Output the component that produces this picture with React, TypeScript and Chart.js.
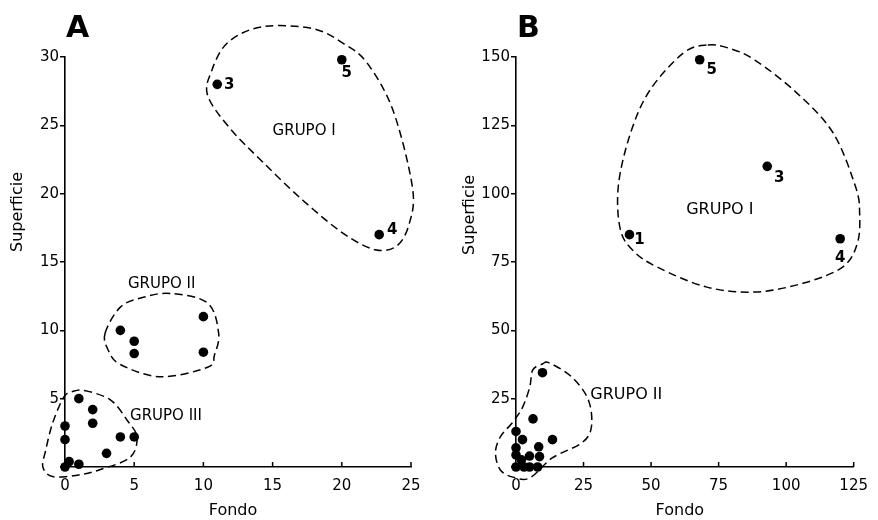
import React, { useEffect, useRef } from 'react';
import { Chart, registerables } from 'chart.js';

Chart.register(...registerables);

const FONT = '"DejaVu Sans", sans-serif';

// ---------- Panel A data ----------
const aTicksX = [0, 5, 10, 15, 20, 25];
const aTicksY = [0, 5, 10, 15, 20, 25, 30];
const aGrupoI: [number, number][] = [[11, 28], [20, 29.8], [22.7, 17]];
const aGrupoINums = ['3', '5', '4'];
const aGrupoII: [number, number][] = [[4, 10], [5, 9.2], [5, 8.3], [10, 11], [10, 8.4]];
const aGrupoIII: [number, number][] = [[1, 5], [2, 4.2], [2, 3.2], [0, 3], [0, 2], [4, 2.2], [5, 2.2], [3, 1], [0.3, 0.4], [0, 0], [1, 0.2]];
const aHullI: [number, number][] = [[10.3, 27.2], [10.6, 29.0], [11.6, 30.9], [13.4, 32.0], [15.5, 32.3], [18.2, 32.0], [20.1, 31.0], [21.8, 29.6], [23.7, 26.1], [25.1, 20.5], [24.9, 17.9], [24.0, 16.2], [22.4, 15.9], [20.1, 17.1], [17.2, 19.5], [14.3, 22.3], [11.9, 24.8]];
const aHullII: [number, number][] = [[2.9, 9.8], [4.0, 11.7], [5.6, 12.4], [7.6, 12.7], [10.3, 12.0], [11.1, 9.8], [10.8, 8.2], [10.3, 7.3], [6.9, 6.6], [4.0, 7.5], [3.1, 8.6]];
const aHullIII: [number, number][] = [[1.4, 5.6], [3.3, 4.9], [4.5, 3.4], [5.2, 2.2], [4.7, 0.7], [2.5, -0.2], [0.9, -0.6], [-0.9, -0.7], [-1.6, 0], [-1.4, 1.2], [-0.9, 3.2], [-0.1, 5.1], [0.5, 5.5]];
const aGroupLabels = ['GRUPO I', 'GRUPO II', 'GRUPO III'];
const aGroupLabelAt: [number, number][] = [[15.0, 24.6], [4.55, 13.4], [4.7, 3.7]];

// ---------- Panel B data ----------
const bTicksX = [0, 25, 50, 75, 100, 125];
const bTicksY = [0, 25, 50, 75, 100, 125, 150];
const bGrupoI: [number, number][] = [[42, 85], [68, 149], [93, 110], [120, 83.5]];
const bGrupoINums = ['1', '5', '3', '4'];
const bGrupoII: [number, number][] = [[0, 0], [3, 0], [5, 0], [8, 0], [2, 2.6], [0, 4.4], [5, 4], [8.7, 3.8], [0, 7], [8.4, 7.4], [2.4, 10], [0, 13], [13.5, 10], [6.3, 17.6], [9.8, 34.5]];
const bHullI: [number, number][] = [[71.0, 154.4], [78.6, 153.3], [88.4, 148.9], [104.0, 136.8], [117.4, 122.2], [125.7, 102.5], [127.2, 92.9], [126.4, 82.0], [121.0, 73.2], [106.5, 67.3], [88.4, 64.0], [70.3, 65.9], [52.2, 73.2], [43.5, 79.0], [38.6, 87.0], [37.9, 103.0], [42.4, 122.2], [49.6, 137.9], [62.0, 151.5]];
const bHullII: [number, number][] = [[9.8, 37.7], [12.3, 38.1], [20.7, 32.9], [26.8, 24.5], [27.9, 14.6], [24.3, 8.8], [13.4, 3.3], [5.1, -4.0], [-1.1, -3.7], [-5.8, -1.1], [-7.6, 5.1], [-5.8, 11.0], [-1.1, 16.5], [2.5, 22.0], [5.1, 29.3], [6.2, 35.5]];
const bGroupLabels = ['GRUPO I', 'GRUPO II'];
const bGroupLabelAt: [number, number][] = [[63.0, 94.0], [27.5, 26.3]];

type Panel = {
  letter: string;
  width: number;
  left: number;
  axisLeft: number;
  padRight: number;
  ticksX: number[];
  ticksY: number[];
  groups: [number, number][][];
  hulls: [number, number][][];
  labeled: [number, number][];
  nums: string[];
  numOffsets: [number, number][];
  groupLabels: string[];
  groupLabelAt: [number, number][];
  groupFont: number;
  yTitleX: number;
  yTitleY: number;
};

const panels: Panel[] = [
  {
    letter: 'A', width: 440, left: 0, axisLeft: 65, padRight: 29,
    ticksX: aTicksX, ticksY: aTicksY,
    groups: [aGrupoI, aGrupoII, aGrupoIII],
    hulls: [aHullI, aHullII, aHullIII],
    labeled: aGrupoI, nums: aGrupoINums,
    numOffsets: [[12, 1], [5, 13], [13, -5]],
    groupLabels: aGroupLabels, groupLabelAt: aGroupLabelAt, groupFont: 15,
    yTitleX: 18, yTitleY: 212,
  },
  {
    letter: 'B', width: 438, left: 440, axisLeft: 76, padRight: 17,
    ticksX: bTicksX, ticksY: bTicksY,
    groups: [bGrupoI, bGrupoII],
    hulls: [bHullI, bHullII],
    labeled: bGrupoI, nums: bGrupoINums,
    numOffsets: [[10, 5], [12, 10], [12, 12], [0, 19]],
    groupLabels: bGroupLabels, groupLabelAt: bGroupLabelAt, groupFont: 16,
    yTitleX: 30, yTitleY: 215,
  },
];

function closedCurve(ctx: CanvasRenderingContext2D, pts: { x: number; y: number }[]) {
  const n = pts.length;
  ctx.beginPath();
  ctx.moveTo(pts[0].x, pts[0].y);
  const t = 1 / 6;
  for (let i = 0; i < n; i++) {
    const p0 = pts[(i - 1 + n) % n];
    const p1 = pts[i];
    const p2 = pts[(i + 1) % n];
    const p3 = pts[(i + 2) % n];
    ctx.bezierCurveTo(
      p1.x + (p2.x - p0.x) * t, p1.y + (p2.y - p0.y) * t,
      p2.x - (p3.x - p1.x) * t, p2.y - (p3.y - p1.y) * t,
      p2.x, p2.y
    );
  }
  ctx.closePath();
  ctx.stroke();
}

function PanelChart({ p }: { p: Panel }) {
  const ref = useRef<HTMLCanvasElement>(null);
  useEffect(() => {
    if (!ref.current) return;
    const xs = p.ticksX;
    const ys = p.ticksY;
    const annot = {
      id: 'annot' + p.letter,
      afterDraw(chart: any) {
        const ctx: CanvasRenderingContext2D = chart.ctx;
        const sx = chart.scales.x;
        const sy = chart.scales.y;
        const area = chart.chartArea;
        ctx.save();
        // inward x ticks
        ctx.strokeStyle = '#000';
        ctx.lineWidth = 1.5;
        ctx.setLineDash([]);
        xs.forEach((v) => {
          if (v === xs[0]) return;
          const px = sx.getPixelForValue(v);
          ctx.beginPath();
          ctx.moveTo(px, area.bottom);
          ctx.lineTo(px, area.bottom - 5);
          ctx.stroke();
        });
        // hulls
        ctx.setLineDash([8, 4.5]);
        ctx.lineWidth = 1.5;
        p.hulls.forEach((h) => {
          const pts = h.map(([x, y]) => ({ x: sx.getPixelForValue(x), y: sy.getPixelForValue(y) }));
          closedCurve(ctx, pts);
        });
        ctx.setLineDash([]);
        ctx.fillStyle = '#000';
        // point numbers
        ctx.font = `bold 15px ${FONT}`;
        ctx.textAlign = 'center';
        ctx.textBaseline = 'middle';
        p.labeled.forEach(([x, y], i) => {
          const [dx, dy] = p.numOffsets[i];
          ctx.fillText(p.nums[i], sx.getPixelForValue(x) + dx, sy.getPixelForValue(y) + dy);
        });
        // group labels
        ctx.font = `${p.groupFont}px ${FONT}`;
        ctx.textAlign = 'left';
        p.groupLabels.forEach((t, i) => {
          const [x, y] = p.groupLabelAt[i];
          ctx.fillText(t, sx.getPixelForValue(x), sy.getPixelForValue(y));
        });
        // panel letter
        ctx.font = `bold 30px ${FONT}`;
        ctx.textAlign = 'left';
        ctx.textBaseline = 'alphabetic';
        ctx.fillText(p.letter, area.left + 1, 37);
        // axis titles
        ctx.font = `16px ${FONT}`;
        ctx.textAlign = 'center';
        ctx.textBaseline = 'middle';
        ctx.fillText('Fondo', (area.left + area.right) / 2 - 5, 511);
        ctx.translate(p.yTitleX, p.yTitleY);
        ctx.rotate(-Math.PI / 2);
        ctx.fillText('Superficie', 0, 0);
        ctx.restore();
      },
    };
    const chart = new Chart(ref.current, {
      type: 'scatter',
      data: {
        datasets: p.groups.map((g) => ({
          data: g.map(([x, y]) => ({ x, y })),
          backgroundColor: '#000',
          borderColor: '#000',
          borderWidth: 0,
          pointRadius: 4.8,
          clip: false as any,
        })),
      },
      options: {
        responsive: false,
        animation: false,
        events: [],
        layout: { padding: { left: 0, top: 57, right: p.padRight, bottom: 0 } },
        plugins: { legend: { display: false }, tooltip: { enabled: false } },
        scales: {
          x: {
            type: 'linear',
            min: xs[0],
            max: xs[xs.length - 1],
            afterBuildTicks: (s: any) => { s.ticks = xs.map((v) => ({ value: v })); },
            afterFit: (s: any) => { s.height = 53; },
            grid: { display: false, drawTicks: false },
            border: { display: true, color: '#000', width: 1.6 },
            ticks: { color: '#000', font: { family: FONT, size: 15 }, padding: 10, maxRotation: 0 },
          },
          y: {
            type: 'linear',
            min: ys[0],
            max: ys[ys.length - 1],
            afterBuildTicks: (s: any) => { s.ticks = ys.map((v) => ({ value: v })); },
            afterFit: (s: any) => { s.width = p.axisLeft; },
            grid: { display: true, drawOnChartArea: false, drawTicks: true, tickLength: 5, color: '#000', lineWidth: 1.5 },
            border: { display: true, color: '#000', width: 1.6 },
            ticks: {
              color: '#000', font: { family: FONT, size: 15 }, padding: 1,
              callback: (v: any) => (v === 0 ? '' : String(v)),
            },
          },
        },
      },
      plugins: [annot],
    } as any);
    return () => chart.destroy();
  }, [p]);
  return (
    <div style={{ position: 'absolute', left: p.left, top: 0, width: p.width, height: 520 }}>
      <canvas ref={ref} width={p.width} height={520} style={{ display: 'block' }} />
    </div>
  );
}

export default function App() {
  return (
    <div style={{ position: 'fixed', left: 0, top: 0, width: 878, height: 520, background: '#fff' }}>
      {panels.map((p) => (
        <PanelChart key={p.letter} p={p} />
      ))}
    </div>
  );
}
